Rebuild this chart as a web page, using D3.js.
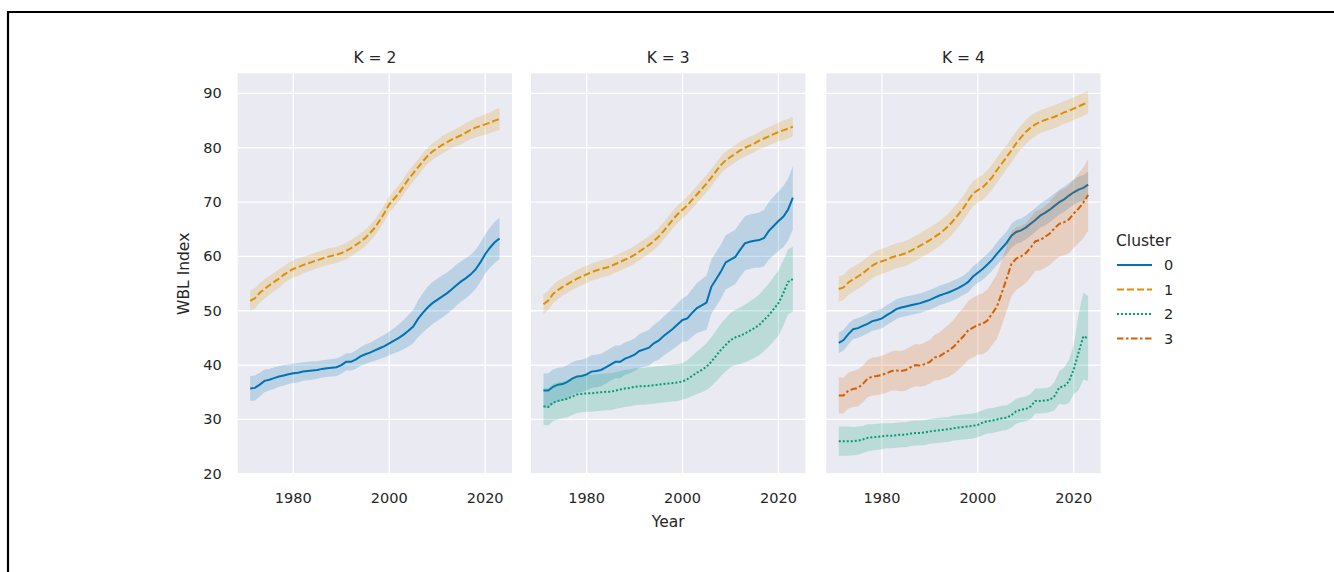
<!DOCTYPE html>
<html>
<head>
<meta charset="utf-8">
<script src="https://cdn.jsdelivr.net/npm/d3@7"></script>
<style>
  body { margin: 0; background: #fff; }
  text { font-family: "DejaVu Sans", sans-serif; fill: #262626; }
</style>
</head>
<body>
<div id="chart"></div>
<script>
// years 1971..2023
var years = d3.range(1971, 2024);
var panelTitles = ["K = 2", "K = 3", "K = 4"];
var clusterNames = ["0", "1", "2", "3"];
var yTicks = [20, 30, 40, 50, 60, 70, 80, 90];
var xTicks = [1980, 2000, 2020];

// K = 2
var k2Mean0 = [35.7,35.8,36.4,37.1,37.3,37.6,37.9,38.1,38.3,38.5,38.6,38.8,38.9,39.0,39.1,39.3,39.4,39.5,39.6,40.0,40.6,40.6,41.0,41.6,42.0,42.3,42.7,43.1,43.5,44.0,44.5,45.0,45.6,46.3,47.1,48.5,49.6,50.6,51.4,52.0,52.6,53.2,53.9,54.7,55.4,56.0,56.7,57.6,58.9,60.4,61.6,62.6,63.3];
var k2Ci0 = [2.3,2.3,2.2,2.1,2.0,2.0,1.9,1.9,1.8,1.8,1.8,1.7,1.7,1.7,1.6,1.6,1.6,1.6,1.6,1.6,1.6,1.6,1.7,1.7,1.8,1.8,1.9,2.0,2.1,2.2,2.3,2.5,2.7,2.9,3.1,3.4,3.6,3.8,3.9,3.9,3.9,3.8,3.8,3.8,3.7,3.7,3.6,3.6,3.6,3.6,3.7,3.8,3.8];
var k2Mean1 = [51.8,52.3,53.3,54.0,54.7,55.3,55.9,56.6,57.2,57.7,58.0,58.4,58.7,59.0,59.3,59.6,59.9,60.1,60.3,60.6,61.0,61.5,62.1,62.7,63.4,64.3,65.3,66.6,68.0,69.6,70.6,71.6,72.9,74.2,75.3,76.4,77.5,78.5,79.3,79.9,80.5,81.0,81.5,81.9,82.3,82.8,83.3,83.7,84.0,84.3,84.6,85.0,85.3];
var k2Ci1 = [1.9,1.9,1.8,1.8,1.7,1.7,1.7,1.6,1.6,1.6,1.6,1.5,1.5,1.5,1.5,1.5,1.5,1.5,1.5,1.5,1.5,1.5,1.5,1.5,1.5,1.5,1.5,1.5,1.5,1.5,1.5,1.5,1.5,1.5,1.5,1.5,1.5,1.5,1.5,1.5,1.6,1.6,1.6,1.6,1.7,1.7,1.7,1.8,1.8,1.9,1.9,2.0,2.0];

// K = 3
var k3Mean0 = [35.3,35.3,36.0,36.4,36.5,36.9,37.5,37.9,38.0,38.3,38.8,38.9,39.1,39.6,40.1,40.6,40.6,41.2,41.5,41.9,42.6,42.9,43.2,44.0,44.5,45.3,46.0,46.7,47.5,48.3,48.6,49.6,50.5,51.0,51.5,54.4,55.8,57.2,58.9,59.4,59.9,61.2,62.4,62.7,62.9,63.0,63.4,64.7,65.6,66.5,67.3,68.6,70.8];
var k3Ci0 = [3.2,3.2,3.2,3.1,3.1,3.1,3.0,3.0,3.0,3.0,3.0,3.0,3.0,3.0,3.0,3.0,3.0,3.0,3.0,3.0,3.1,3.2,3.3,3.4,3.5,3.6,3.7,3.8,3.9,4.0,4.2,4.4,4.6,4.8,5.0,5.0,5.0,5.0,5.0,5.0,5.0,5.0,5.0,5.0,5.0,5.1,5.2,5.3,5.4,5.5,5.6,5.7,5.8];
var k3Mean1 = [51.2,51.9,53.1,53.8,54.4,54.9,55.4,55.9,56.3,56.7,57.1,57.4,57.7,57.9,58.2,58.6,59.0,59.4,59.8,60.3,60.9,61.5,62.1,62.8,63.6,64.6,65.7,66.8,67.8,68.6,69.4,70.4,71.4,72.4,73.4,74.5,75.7,76.8,77.7,78.3,78.9,79.5,80.0,80.4,80.8,81.3,81.7,82.1,82.5,82.9,83.2,83.5,83.9];
var k3Ci1 = [1.8,1.8,1.7,1.7,1.6,1.6,1.6,1.6,1.6,1.6,1.6,1.6,1.6,1.6,1.6,1.6,1.6,1.6,1.6,1.6,1.6,1.6,1.6,1.6,1.6,1.6,1.6,1.6,1.6,1.6,1.6,1.6,1.6,1.6,1.6,1.6,1.6,1.6,1.6,1.6,1.6,1.6,1.6,1.6,1.6,1.6,1.7,1.7,1.7,1.7,1.8,1.8,1.8];
var k3Mean2 = [32.4,32.3,33.1,33.4,33.6,33.8,34.2,34.6,34.7,34.8,34.8,34.9,35.0,35.1,35.1,35.3,35.5,35.7,35.8,36.0,36.1,36.1,36.2,36.3,36.4,36.5,36.6,36.7,36.8,37.0,37.4,38.0,38.6,39.1,39.7,40.6,41.7,42.8,43.7,44.6,45.1,45.4,45.8,46.3,46.8,47.4,48.3,49.2,50.3,51.4,53.2,55.3,55.8];
var k3Ci2 = [3.4,3.4,3.4,3.4,3.4,3.4,3.4,3.4,3.4,3.4,3.4,3.4,3.4,3.4,3.4,3.4,3.4,3.4,3.4,3.4,3.4,3.4,3.4,3.4,3.4,3.4,3.4,3.4,3.4,3.4,3.5,3.7,3.9,4.1,4.3,4.5,4.7,4.8,4.9,5.0,5.1,5.2,5.3,5.4,5.5,5.6,5.7,5.8,5.9,6.0,6.0,6.0,6.0];

// K = 4
var k4Mean0 = [44.1,44.6,45.7,46.6,46.8,47.2,47.6,48.1,48.3,48.6,49.2,49.7,50.3,50.6,50.8,51.0,51.2,51.4,51.7,52.0,52.4,52.8,53.1,53.4,53.8,54.2,54.7,55.3,56.3,57.0,57.7,58.5,59.4,60.5,61.5,62.5,63.8,64.5,64.8,65.3,66.0,66.7,67.5,68.0,68.6,69.3,70.0,70.5,71.2,71.8,72.3,72.6,73.2];
var k4Ci0 = [1.9,1.9,1.9,1.8,1.8,1.8,1.8,1.8,1.8,1.8,1.8,1.8,1.8,1.8,1.8,1.8,1.8,1.8,1.8,1.8,1.8,1.8,1.8,1.8,1.8,1.8,1.8,1.9,1.9,1.9,2.0,2.0,2.0,2.1,2.1,2.1,2.2,2.2,2.2,2.2,2.2,2.2,2.2,2.3,2.3,2.3,2.3,2.3,2.3,2.3,2.4,2.4,2.4];
var k4Mean1 = [54.0,54.3,55.2,55.8,56.3,56.9,57.6,58.3,58.8,59.1,59.4,59.8,60.1,60.3,60.6,61.0,61.5,62.0,62.5,63.0,63.6,64.2,64.9,65.7,66.7,67.8,68.9,70.3,71.6,72.2,72.7,73.6,74.6,75.9,77.1,78.3,79.5,80.8,81.9,82.9,83.7,84.3,84.8,85.1,85.4,85.7,86.1,86.5,86.8,87.2,87.6,88.0,88.4];
var k4Ci1 = [2.3,2.3,2.3,2.3,2.3,2.3,2.3,2.3,2.3,2.3,2.3,2.3,2.3,2.3,2.3,2.3,2.3,2.3,2.3,2.3,2.3,2.3,2.3,2.3,2.3,2.3,2.3,2.3,2.3,2.3,2.3,2.3,2.3,2.3,2.3,2.2,2.2,2.2,2.2,2.2,2.2,2.2,2.1,2.1,2.1,2.1,2.1,2.1,2.1,2.1,2.1,2.1,2.1];
var k4Mean2 = [26.0,26.0,26.0,26.0,26.1,26.3,26.6,26.7,26.8,26.9,27.0,27.0,27.1,27.2,27.2,27.4,27.5,27.5,27.6,27.8,27.9,28.0,28.1,28.2,28.4,28.5,28.6,28.7,28.8,29.0,29.4,29.7,29.8,30.0,30.2,30.3,30.8,31.5,31.8,31.9,32.4,33.4,33.4,33.5,33.6,34.3,35.9,36.1,37.0,39.2,42.3,45.3,44.9];
var k4Ci2 = [2.7,2.7,2.7,2.6,2.6,2.5,2.5,2.4,2.4,2.4,2.3,2.3,2.3,2.3,2.3,2.3,2.3,2.3,2.3,2.3,2.3,2.3,2.3,2.3,2.3,2.3,2.3,2.3,2.3,2.3,2.3,2.3,2.3,2.3,2.3,2.3,2.3,2.3,2.3,2.3,2.3,2.3,2.3,2.3,2.3,2.6,3.0,3.4,4.0,4.5,7.0,8.0,7.8];
var k4Mean3 = [34.4,34.4,35.3,35.6,35.8,36.5,37.5,37.9,38.0,38.2,38.5,38.9,39.0,38.9,39.1,39.6,40.0,39.9,40.2,40.6,41.4,41.6,42.2,42.7,43.4,44.4,45.3,46.4,46.9,47.4,47.6,48.2,49.5,50.8,53.3,55.9,58.6,59.6,60.0,60.6,61.6,62.8,63.0,63.6,64.2,65.2,66.0,66.3,66.8,67.9,68.8,69.9,71.3];
var k4Ci3 = [3.3,3.3,3.3,3.3,3.4,3.4,3.4,3.5,3.5,3.5,3.6,3.6,3.7,3.7,3.8,3.8,3.9,3.9,4.0,4.0,4.2,4.4,4.6,4.8,5.0,5.2,5.3,5.4,5.5,5.5,5.6,5.7,5.8,5.9,6.0,6.0,5.9,5.8,5.6,5.5,5.5,5.5,5.6,5.7,5.8,5.9,6.0,6.1,6.2,6.3,6.4,6.5,6.6];

var colors = ["#0173b2", "#de8f05", "#029e73", "#d55e00"];
var dashes = ["none", "7,3", "2,2", "6.5,2.5,2.5,2.5"];

var panels = [
  {title: panelTitles[0], series: [
    {c: 0, mean: k2Mean0, ci: k2Ci0},
    {c: 1, mean: k2Mean1, ci: k2Ci1}]},
  {title: panelTitles[1], series: [
    {c: 0, mean: k3Mean0, ci: k3Ci0},
    {c: 1, mean: k3Mean1, ci: k3Ci1},
    {c: 2, mean: k3Mean2, ci: k3Ci2}]},
  {title: panelTitles[2], series: [
    {c: 0, mean: k4Mean0, ci: k4Ci0},
    {c: 1, mean: k4Mean1, ci: k4Ci1},
    {c: 2, mean: k4Mean2, ci: k4Ci2},
    {c: 3, mean: k4Mean3, ci: k4Ci3}]}
];

var width = 1334, height = 572;
var plotTop = 73.3, plotBottom = 474.3;
var panelLeft = [237.7, 531, 826.3], panelWidth = 274.3;

var svg = d3.select("#chart").append("svg")
    .attr("width", width)
    .attr("height", height);

// border of the original image (top and left edges only)
svg.append("path")
    .attr("d", "M8,572V12H1334")
    .attr("fill", "none")
    .attr("stroke", "#000")
    .attr("stroke-width", 2.2);

var y = d3.scaleLinear().domain([19.9, 93.7]).range([plotBottom, plotTop]);

panels.forEach(function(p, i) {
  var x = d3.scaleLinear()
      .domain([1968.4, 2025.6])
      .range([panelLeft[i], panelLeft[i] + panelWidth]);

  var g = svg.append("g");

  g.append("rect")
      .attr("x", panelLeft[i])
      .attr("y", plotTop)
      .attr("width", panelWidth)
      .attr("height", plotBottom - plotTop)
      .attr("fill", "#eaeaf2");

  // grid
  g.selectAll(".gx").data(xTicks).enter().append("line")
      .attr("x1", x).attr("x2", x)
      .attr("y1", plotTop).attr("y2", plotBottom)
      .attr("stroke", "#fff").attr("stroke-width", 1.3);
  g.selectAll(".gy").data(yTicks).enter().append("line")
      .attr("x1", panelLeft[i]).attr("x2", panelLeft[i] + panelWidth)
      .attr("y1", y).attr("y2", y)
      .attr("stroke", "#fff").attr("stroke-width", 1.3);

  var area = d3.area()
      .x(function(d) { return x(d.year); })
      .y0(function(d) { return y(d.mean - d.ci); })
      .y1(function(d) { return y(d.mean + d.ci); });
  var line = d3.line()
      .x(function(d) { return x(d.year); })
      .y(function(d) { return y(d.mean); });

  p.series.forEach(function(s) {
    var pts = years.map(function(yr, j) { return {year: yr, mean: s.mean[j], ci: s.ci[j]}; });
    g.append("path")
        .attr("d", line(pts))
        .attr("fill", "none")
        .attr("stroke", colors[s.c])
        .attr("stroke-width", 2)
        .attr("stroke-dasharray", dashes[s.c]);
    g.append("path")
        .attr("d", area(pts))
        .attr("fill", colors[s.c])
        .attr("fill-opacity", 0.2);
  });

  // x axis labels
  g.selectAll(".xt").data(xTicks).enter().append("text")
      .attr("x", x)
      .attr("y", plotBottom + 29)
      .attr("text-anchor", "middle")
      .style("font-size", "14.5px")
      .text(function(d) { return d; });

  // title
  g.append("text")
      .attr("x", panelLeft[i] + panelWidth / 2)
      .attr("y", 63)
      .attr("text-anchor", "middle")
      .style("font-size", "15.5px")
      .text(p.title);

  if (i === 0) {
    g.selectAll(".yt").data(yTicks).enter().append("text")
        .attr("x", panelLeft[i] - 16)
        .attr("y", function(d) { return y(d) + 5; })
        .attr("text-anchor", "end")
        .style("font-size", "14.5px")
        .text(function(d) { return d; });
  }
});

// axis titles
svg.append("text")
    .attr("transform", "translate(189," + ((plotTop + plotBottom) / 2) + ") rotate(-90)")
    .attr("text-anchor", "middle")
    .style("font-size", "15.5px")
    .text("WBL Index");

svg.append("text")
    .attr("x", panelLeft[1] + panelWidth / 2)
    .attr("y", 527)
    .attr("text-anchor", "middle")
    .style("font-size", "15.5px")
    .text("Year");

// legend
var legend = svg.append("g").attr("transform", "translate(1116,0)");
legend.append("text")
    .attr("x", 0)
    .attr("y", 246)
    .style("font-size", "15.5px")
    .text("Cluster");
clusterNames.forEach(function(name, i) {
  var ly = 265 + i * 24.5;
  legend.append("line")
      .attr("x1", 1).attr("x2", 36)
      .attr("y1", ly).attr("y2", ly)
      .attr("stroke", colors[i])
      .attr("stroke-width", 2)
      .attr("stroke-dasharray", dashes[i]);
  legend.append("text")
      .attr("x", 48)
      .attr("y", ly + 5)
      .style("font-size", "14.5px")
      .text(name);
});
</script>
</body>
</html>
